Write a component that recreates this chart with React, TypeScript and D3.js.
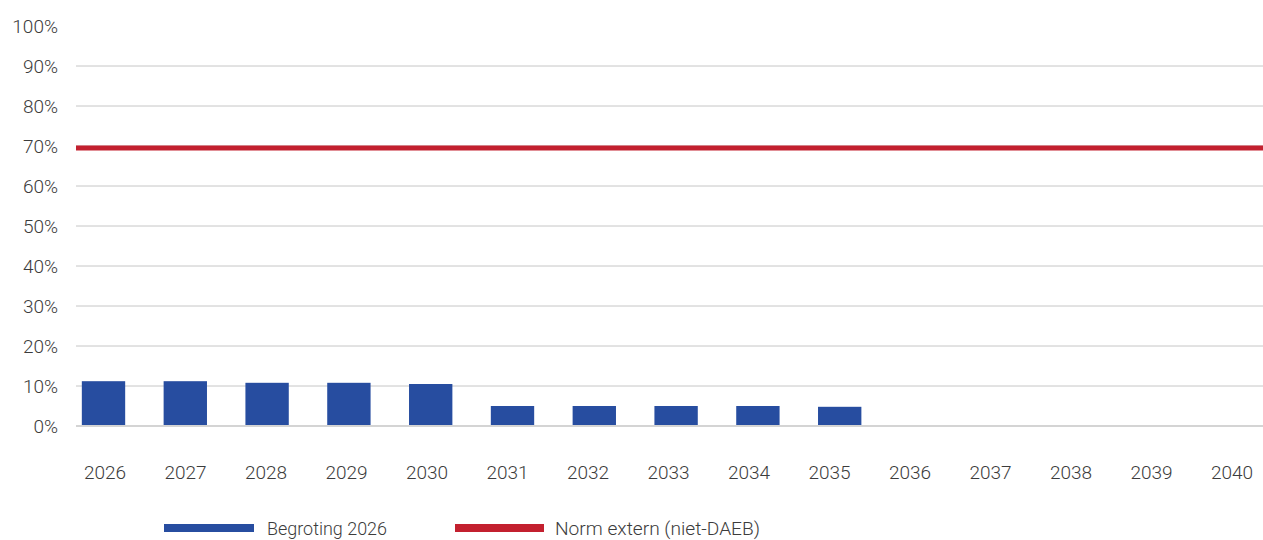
import React from "react";
import * as d3 from "d3";

const years = ["2026","2027","2028","2029","2030","2031","2032","2033","2034","2035","2036","2037","2038","2039","2040"];
const begroting: (number | null)[] = [11.2, 11.2, 10.8, 10.8, 10.5, 5.0, 5.0, 5.0, 5.0, 4.8, null, null, null, null, null];
const normExtern = 69.5;
const yTicks = [0, 10, 20, 30, 40, 50, 60, 70, 80, 90, 100];
const legendLabels = ["Begroting 2026", "Norm extern (niet-DAEB)"];

const W = 1263, H = 540;
const FONT = "Roboto, sans-serif";
const BLUE = "#274da0";
const RED = "#c3202f";
const TEXT = "#3c3c3c";

export default function App() {
  const step = 81.8;
  const x = d3.scaleBand<string>().domain(years).range([103.5 - step / 2, 103.5 - step / 2 + 15 * step]).paddingInner(0.47).paddingOuter(0.235);
  const y = d3.scaleLinear().domain([0, 100]).range([426, 26]);
  const gridX0 = 76, gridX1 = W;
  const txt = { fontFamily: FONT, fontSize: 19, fontWeight: 300, fill: TEXT } as const;
  return (
    <svg width={W} height={H} style={{ position: "absolute", left: 0, top: 0, background: "#fff" }}>
      {yTicks.filter(t => t > 0 && t < 100).map(t => (
        <line key={t} x1={gridX0} x2={gridX1} y1={y(t)} y2={y(t)} stroke="#c6c6c6" strokeWidth={1} />
      ))}
      {yTicks.map(t => (
        <text key={"l" + t} x={58} y={y(t)} dy="0.35em" textAnchor="end" {...txt}>{t}%</text>
      ))}
      {begroting.map((v, i) => v == null ? null : (
        <rect key={i} x={x(years[i])} width={x.bandwidth()} y={y(v)} height={y(0) - y(v) - 1} fill={BLUE} />
      ))}
      <line x1={gridX0} x2={gridX1} y1={y(0)} y2={y(0)} stroke="#c6c6c6" strokeWidth={1.5} />
      <line x1={gridX0} x2={gridX1} y1={y(normExtern)} y2={y(normExtern)} stroke={RED} strokeWidth={5} />
      {years.map((yr, i) => (
        <text key={yr} x={105 + i * 80.5} y={472} dy="0.35em" textAnchor="middle" {...txt}>{yr}</text>
      ))}
      <rect x={164} y={524} width={90} height={8} fill={BLUE} />
      <text x={267} y={528} dy="0.35em" {...txt} textLength={120} lengthAdjust="spacingAndGlyphs">{legendLabels[0]}</text>
      <rect x={455} y={524} width={89} height={8} fill={RED} />
      <text x={555} y={528} dy="0.35em" {...txt} textLength={205} lengthAdjust="spacingAndGlyphs">{legendLabels[1]}</text>
    </svg>
  );
}
